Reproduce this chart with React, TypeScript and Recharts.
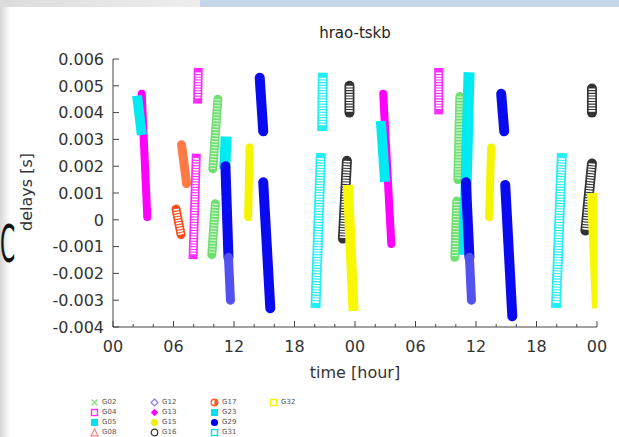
import React from "react";
import { ComposedChart, Line, XAxis, YAxis } from "recharts";

type Pt = { t: number; d: number };

// tick values
const hourTicks = [0, 2, 4, 6, 8, 10, 12, 14, 16, 18, 20, 22, 24, 26, 28, 30, 32, 34, 36, 38, 40, 42, 44, 46, 48];
const delayTicks = [-0.004, -0.003, -0.002, -0.001, 0, 0.001, 0.002, 0.003, 0.004, 0.005, 0.006];

// satellite passes, t = hour since start, d = delay [s]
const g13a: Pt[] = [{ t: 2.85, d: 0.0047 }, { t: 3.4, d: 0.0001 }];
const g05a: Pt[] = [{ t: 2.45, d: 0.00445 }, { t: 2.8, d: 0.00335 }];
const g17a: Pt[] = [{ t: 6.8, d: 0.0028 }, { t: 7.3, d: 0.00135 }];
const g17b: Pt[] = [{ t: 6.25, d: 0.0004 }, { t: 6.75, d: -0.00055 }];
const g04a: Pt[] = [{ t: 8.45, d: 0.0055 }, { t: 8.4, d: 0.0045 }];
const g04b: Pt[] = [{ t: 8.25, d: 0.0023 }, { t: 7.95, d: -0.0013 }];
const g02a: Pt[] = [{ t: 10.4, d: 0.0045 }, { t: 9.9, d: 0.0019 }];
const g02b: Pt[] = [{ t: 10.15, d: 0.0006 }, { t: 9.8, d: -0.0013 }];
const g23a: Pt[] = [{ t: 11.2, d: 0.0029 }, { t: 11.1, d: 0.0021 }];
const g29a: Pt[] = [{ t: 11.15, d: 0.002 }, { t: 11.45, d: -0.0014 }];
const g12a: Pt[] = [{ t: 11.45, d: -0.0014 }, { t: 11.65, d: -0.003 }];
const g15a: Pt[] = [{ t: 13.55, d: 0.0027 }, { t: 13.4, d: 0.0001 }];
const g29b: Pt[] = [{ t: 14.55, d: 0.0053 }, { t: 14.9, d: 0.0033 }];
const g29c: Pt[] = [{ t: 14.9, d: 0.0014 }, { t: 15.6, d: -0.0033 }];
const g31a: Pt[] = [{ t: 20.8, d: 0.0053 }, { t: 20.75, d: 0.0035 }];
const g31b: Pt[] = [{ t: 20.6, d: 0.0023 }, { t: 20.1, d: -0.0031 }];
const g16a: Pt[] = [{ t: 23.45, d: 0.005 }, { t: 23.45, d: 0.004 }];
const g16b: Pt[] = [{ t: 23.2, d: 0.0022 }, { t: 22.8, d: -0.0007 }];
const g32a: Pt[] = [{ t: 23.3, d: 0.0013 }, { t: 23.85, d: -0.0034 }];
const g13b: Pt[] = [{ t: 26.8, d: 0.0047 }, { t: 27.6, d: -0.0009 }];
const g05b: Pt[] = [{ t: 26.6, d: 0.0035 }, { t: 26.95, d: 0.0016 }];
const g04c: Pt[] = [{ t: 32.3, d: 0.0055 }, { t: 32.3, d: 0.0041 }];
const g02c: Pt[] = [{ t: 34.4, d: 0.0046 }, { t: 34.2, d: 0.0015 }];
const g02d: Pt[] = [{ t: 34.1, d: 0.0007 }, { t: 33.9, d: -0.0014 }];
const g23b: Pt[] = [{ t: 35.3, d: 0.0053 }, { t: 34.85, d: -0.0011 }];
const g29d: Pt[] = [{ t: 35.0, d: 0.0014 }, { t: 35.35, d: -0.0014 }];
const g12b: Pt[] = [{ t: 35.35, d: -0.0014 }, { t: 35.55, d: -0.003 }];
const g15b: Pt[] = [{ t: 37.5, d: 0.0027 }, { t: 37.3, d: 0.0001 }];
const g29e: Pt[] = [{ t: 38.5, d: 0.0047 }, { t: 38.8, d: 0.0033 }];
const g29f: Pt[] = [{ t: 38.9, d: 0.0013 }, { t: 39.6, d: -0.0036 }];
const g31c: Pt[] = [{ t: 44.5, d: 0.0023 }, { t: 43.95, d: -0.0031 }];
const g16c: Pt[] = [{ t: 47.5, d: 0.0049 }, { t: 47.5, d: 0.004 }];
const g16d: Pt[] = [{ t: 47.5, d: 0.0021 }, { t: 46.85, d: -0.0004 }];
const g32b: Pt[] = [{ t: 47.5, d: 0.001 }, { t: 48.0, d: -0.0033 }];

// draw order matters (later on top)
const tracks: { style: string; pts: Pt[] }[] = [
  { style: "G13", pts: g13a },
  { style: "G05", pts: g05a },
  { style: "G17", pts: g17a },
  { style: "G17h", pts: g17b },
  { style: "G04", pts: g04a },
  { style: "G04", pts: g04b },
  { style: "G02", pts: g02a },
  { style: "G02", pts: g02b },
  { style: "G23", pts: g23a },
  { style: "G29", pts: g29a },
  { style: "G12", pts: g12a },
  { style: "G15", pts: g15a },
  { style: "G29", pts: g29b },
  { style: "G29", pts: g29c },
  { style: "G31", pts: g31a },
  { style: "G31", pts: g31b },
  { style: "G16", pts: g16a },
  { style: "G16", pts: g16b },
  { style: "G32", pts: g32a },
  { style: "G13", pts: g13b },
  { style: "G05", pts: g05b },
  { style: "G04", pts: g04c },
  { style: "G02", pts: g02c },
  { style: "G02", pts: g02d },
  { style: "G23", pts: g23b },
  { style: "G29", pts: g29d },
  { style: "G12", pts: g12b },
  { style: "G15", pts: g15b },
  { style: "G29", pts: g29e },
  { style: "G29", pts: g29f },
  { style: "G31", pts: g31c },
  { style: "G16", pts: g16c },
  { style: "G16", pts: g16d },
  { style: "G32", pts: g32b },
];

type Look = { color: string; width: number; cap: "round" | "square" | "butt"; hollow?: boolean; hatch?: boolean };

const looks: Record<string, Look> = {
  G02: { color: "#70de70", width: 9, cap: "round", hatch: true },
  G04: { color: "#ff2cff", width: 9, cap: "square", hollow: true },
  G05: { color: "#00eaf2", width: 10, cap: "square" },
  G12: { color: "#5252f0", width: 9, cap: "round" },
  G13: { color: "#ff00ff", width: 8, cap: "round" },
  G15: { color: "#f5f500", width: 8, cap: "round" },
  G16: { color: "#333333", width: 10, cap: "round", hollow: true },
  G17: { color: "#ff7a45", width: 9, cap: "round" },
  G17h: { color: "#ff4a1a", width: 9, cap: "round", hollow: true },
  G23: { color: "#00eaf2", width: 11, cap: "square" },
  G29: { color: "#0a0af0", width: 10, cap: "round" },
  G31: { color: "#22eef5", width: 10, cap: "square", hollow: true },
  G32: { color: "#f8f800", width: 10, cap: "butt" },
};

// legend columns: name, marker kind, colour
const legendCols: [string, string, string][][] = [
  [["G02", "x", "#7fe07f"], ["G04", "sq", "#ff33ff"], ["G05", "fsq", "#00e0ee"], ["G08", "tri", "#ff8080"]],
  [["G12", "dia", "#8a7cf0"], ["G13", "fdia", "#ff00ff"], ["G15", "fcirc", "#f0f000"], ["G16", "circ", "#333333"]],
  [["G17", "half", "#ff5522"], ["G23", "fsq", "#00e0ee"], ["G29", "fcirc", "#0000ee"], ["G31", "sq", "#00e0ee"]],
  [["G32", "sq", "#f0f000"]],
];

const FONT = '"DejaVu Sans", Verdana, sans-serif';
const AXIS = "#444";

const fmtHour = (h: number) => String(h % 24).padStart(2, "0");
const fmtDelay = (v: number) => (Math.abs(v) < 1e-9 ? "0" : v.toFixed(3));

const BottomTick = (p: any) => {
  const major = p.payload.value % 6 === 0;
  return (
    <g>
      <line x1={p.x} x2={p.x} y1={p.y} y2={p.y - (major ? 6 : 3)} stroke={AXIS} />
      {major && (
        <text x={p.x} y={p.y + 25} textAnchor="middle" fontSize={16} fontFamily={FONT} fill="#333">
          {fmtHour(p.payload.value)}
        </text>
      )}
    </g>
  );
};

const TopTick = (p: any) => {
  const major = p.payload.value % 6 === 0;
  return <line x1={p.x} x2={p.x} y1={p.y} y2={p.y + (major ? 6 : 3)} stroke={AXIS} />;
};

const LeftTick = (p: any) => (
  <g>
    <line x1={p.x} x2={p.x + 6} y1={p.y} y2={p.y} stroke={AXIS} />
    <text x={p.x - 9} y={p.y} dy="0.36em" textAnchor="end" fontSize={16} fontFamily={FONT} fill="#333">
      {fmtDelay(p.payload.value)}
    </text>
  </g>
);

const RightTick = (p: any) => <line x1={p.x} x2={p.x - 6} y1={p.y} y2={p.y} stroke={AXIS} />;

const Marker = ({ kind, color }: { kind: string; color: string }) => (
  <svg width={9} height={9} viewBox="0 0 9 9" style={{ position: "absolute", left: -4.5, top: -4.5 }}>
    {kind === "x" && (
      <path d="M1.5 1.5 L7.5 7.5 M7.5 1.5 L1.5 7.5" stroke={color} strokeWidth={1.2} />
    )}
    {kind === "sq" && <rect x={1.5} y={1.5} width={6} height={6} fill="none" stroke={color} strokeWidth={1.4} />}
    {kind === "fsq" && <rect x={1} y={1} width={7} height={7} fill={color} />}
    {kind === "tri" && <path d="M4.5 1 L8 7.8 L1 7.8 Z" fill="none" stroke={color} strokeWidth={1.2} />}
    {kind === "dia" && <path d="M4.5 1 L8 4.5 L4.5 8 L1 4.5 Z" fill="none" stroke={color} strokeWidth={1.2} />}
    {kind === "fdia" && <path d="M4.5 0.8 L8.2 4.5 L4.5 8.2 L0.8 4.5 Z" fill={color} />}
    {kind === "fcirc" && <circle cx={4.5} cy={4.5} r={3.6} fill={color} />}
    {kind === "circ" && <circle cx={4.5} cy={4.5} r={3.3} fill="none" stroke={color} strokeWidth={1.2} />}
    {kind === "half" && (
      <g>
        <circle cx={4.5} cy={4.5} r={3.4} fill="#fff" stroke={color} strokeWidth={1.2} />
        <path d="M4.5 1.1 A3.4 3.4 0 0 1 4.5 7.9 Z" fill={color} />
      </g>
    )}
  </svg>
);

const legendX = [94, 154, 214, 273];
const legendY = [402, 412, 422, 432];

export default function App() {
  return (
    <div
      style={{
        position: "absolute",
        left: 0,
        top: 0,
        width: 619,
        height: 437,
        overflow: "hidden",
        background: "#fff",
        fontFamily: FONT,
      }}
    >
      {/* slide leftovers around the pasted plot */}
      <div style={{ position: "absolute", left: 0, top: 0, width: 200, height: 7, background: "linear-gradient(to right, #dcdcdc, #eeeeee)" }} />
      <div style={{ position: "absolute", left: 200, top: 0, width: 419, height: 7, background: "#c7d7ea" }} />
      <div style={{ position: "absolute", left: 0, top: 7, width: 10, height: 430, background: "linear-gradient(to right, #d6d6d6, #ffffff)" }} />
      <div
        style={{
          position: "absolute",
          left: 0,
          top: 216,
          fontSize: 52,
          lineHeight: "56px",
          color: "#111",
          transform: "scaleX(0.42)",
          transformOrigin: "0 0",
        }}
      >
        C
      </div>

      <div style={{ position: "absolute", left: 255, top: 26, width: 200, textAlign: "center", fontSize: 15, lineHeight: "15px", color: "#222" }}>
        hrao-tskb
      </div>
      <div
        style={{
          position: "absolute",
          left: 27 - 60,
          top: 192 - 10,
          width: 120,
          height: 20,
          lineHeight: "20px",
          textAlign: "center",
          fontSize: 16,
          color: "#333",
          transform: "rotate(-90deg)",
        }}
      >
        delays [s]
      </div>
      <div style={{ position: "absolute", left: 255, top: 365, width: 200, textAlign: "center", fontSize: 16, lineHeight: "16px", color: "#333" }}>
        time [hour]
      </div>

      <ComposedChart
        width={619}
        height={390}
        margin={{ top: 59, right: 22, bottom: 33, left: 53 }}
        style={{ position: "absolute", left: 0, top: 0 }}
      >
        <XAxis
          type="number"
          dataKey="t"
          domain={[0, 48]}
          ticks={hourTicks}
          allowDataOverflow
          height={30}
          stroke={AXIS}
          tickLine={false}
          tickSize={0}
          tickMargin={0}
          interval={0}
          tick={(p: any) => <BottomTick {...p} />}
        />
        <XAxis
          xAxisId="top"
          orientation="top"
          type="number"
          dataKey="t"
          domain={[0, 48]}
          ticks={hourTicks}
          allowDataOverflow
          height={0}
          stroke={AXIS}
          tickLine={false}
          tickSize={0}
          tickMargin={0}
          interval={0}
          tick={(p: any) => <TopTick {...p} />}
        />
        <YAxis
          type="number"
          domain={[-0.004, 0.006]}
          ticks={delayTicks}
          allowDataOverflow
          width={60}
          stroke={AXIS}
          tickLine={false}
          tickSize={0}
          tickMargin={0}
          interval={0}
          tick={(p: any) => <LeftTick {...p} />}
        />
        <YAxis
          yAxisId="r"
          orientation="right"
          type="number"
          domain={[-0.004, 0.006]}
          ticks={delayTicks}
          allowDataOverflow
          width={0}
          stroke={AXIS}
          tickLine={false}
          tickSize={0}
          tickMargin={0}
          interval={0}
          tick={(p: any) => <RightTick {...p} />}
        />
        {tracks.flatMap((tr, i) => {
          const lk = looks[tr.style];
          const items = [
            <Line
              key={`b${i}`}
              data={tr.pts}
              dataKey="d"
              type="linear"
              stroke={lk.color}
              strokeWidth={lk.width}
              strokeLinecap={lk.cap}
              dot={false}
              activeDot={false}
              isAnimationActive={false}
            />,
          ];
          if (lk.hollow) {
            items.push(
              <Line
                key={`h${i}`}
                data={tr.pts}
                dataKey="d"
                type="linear"
                stroke="#ffffff"
                strokeWidth={lk.width - 3.4}
                strokeLinecap="butt"
                strokeDasharray="1.6 1.1"
                dot={false}
                activeDot={false}
                isAnimationActive={false}
              />
            );
          }
          if (lk.hatch) {
            items.push(
              <Line
                key={`x${i}`}
                data={tr.pts}
                dataKey="d"
                type="linear"
                stroke="#d2f6d2"
                strokeWidth={lk.width - 3}
                strokeLinecap="butt"
                strokeDasharray="1.2 1.8"
                dot={false}
                activeDot={false}
                isAnimationActive={false}
              />
            );
          }
          return items;
        })}
      </ComposedChart>

      {legendCols.map((col, ci) =>
        col.map(([name, kind, color], ri) => (
          <div key={name} style={{ position: "absolute", left: legendX[ci], top: legendY[ri] }}>
            <Marker kind={kind} color={color} />
            <span
              style={{
                position: "absolute",
                left: 8,
                top: -4,
                fontSize: 7,
                lineHeight: "8px",
                color: "#555",
                whiteSpace: "nowrap",
              }}
            >
              {name}
            </span>
          </div>
        ))
      )}
    </div>
  );
}
